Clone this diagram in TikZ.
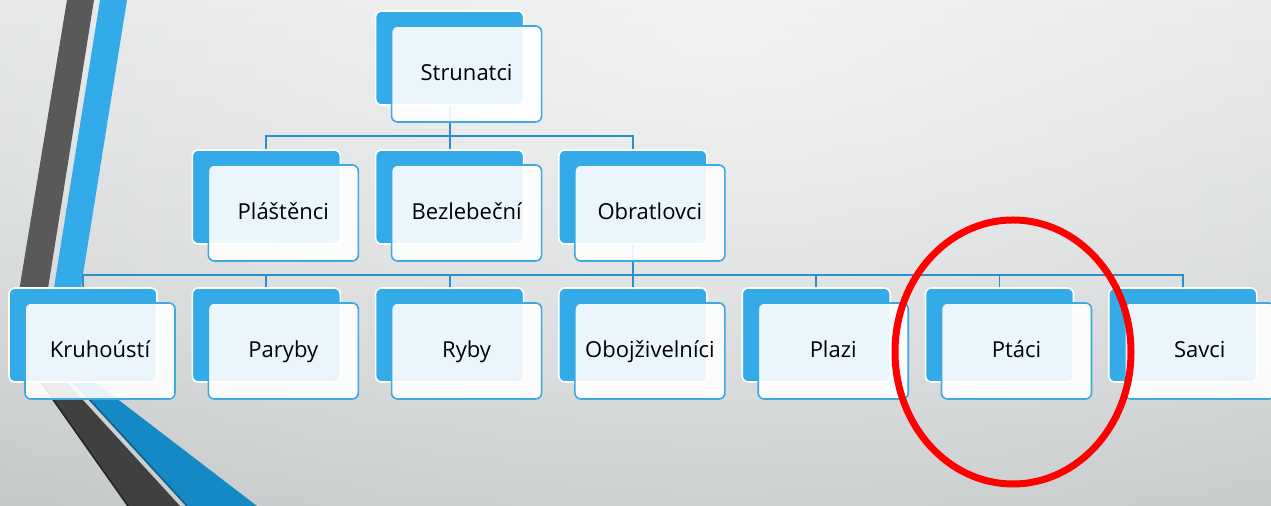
\documentclass[tikz,border=0pt]{standalone}
\usepackage{fontspec}
\setmainfont{Open Sans}
\usetikzlibrary{fadings}

\definecolor{sliceblue}{HTML}{33ABE9}
\definecolor{slicedeep}{HTML}{1588C6}
\definecolor{sliceedge}{HTML}{0E5F8C}
\definecolor{slicegray}{HTML}{595959}
\definecolor{slicedark}{HTML}{404040}
\definecolor{linkblue}{HTML}{2A8FCB}
\definecolor{frameblue}{HTML}{3DA9E2}
\definecolor{bgtop}{HTML}{DFE1E2}
\definecolor{bgbottom}{HTML}{C1C5C6}

\tikzfading[name=glow, inner color=transparent!0, outer color=transparent!100]

\tikzset{
  backbox/.style={draw=white, line width=0.8pt, fill=sliceblue, rounded corners=3pt,
    minimum width=74pt, minimum height=47pt, inner sep=0pt},
  frontbox/.style={draw=frameblue, line width=0.8pt, fill=white, fill opacity=0.9,
    text opacity=1, rounded corners=3pt, minimum width=75pt, minimum height=48pt,
    inner sep=0pt, text height=8pt, text depth=1.5pt, text=black,
    font=\fontsize{11pt}{13pt}\selectfont},
  link/.style={draw=linkblue, line width=0.9pt},
}

\begin{document}
\begin{tikzpicture}[x=0.5pt, y=-0.5pt]
      \useasboundingbox (0,0) rectangle (1271,506);
      \clip (0,0) rectangle (1271,506);

      % background
      \shade[top color=bgtop, bottom color=bgbottom] (0,0) rectangle (1271,506);
      \fill[white, opacity=0.6, path fading=glow] (720,40) ellipse (1200 and 700);

      % stripes on the left
      \fill[slicegray] (67,0) -- (94,0) -- (38,351) -- (11,340) -- cycle;
      \fill[slicedark] (11,340) -- (38,351) -- (180,506) -- (128,506) -- cycle;
      \draw[black!85, line width=0.8pt] (11,340) -- (128,506);
      \fill[sliceblue] (100,0) -- (127,0) -- (69,362) -- (44,350) -- cycle;
      \fill[slicedeep] (44,350) -- (69,362) -- (257,506) -- (187,506) -- cycle;
      \draw[sliceedge, line width=0.8pt] (44,350) -- (187,506);

      % back boxes
      \node[backbox] (strun-b) at (449.6, 58) {};
      \foreach \name [count=\i] in {plas, bezl, obra} {
        \node[backbox] (\name-b) at (83+183.3*\i, 197) {};
      }
      \foreach \name [count=\i from 0] in {kruh, pary, ryby, oboj, plaz, ptac, savc} {
        \node[backbox] (\name-b) at (83+183.3*\i, 335) {};
      }

      % connectors
      \foreach \kid in {plas, bezl, obra} {
        \draw[link] (strun-b.south) -- ++(0,30) -| (\kid-b.north);
      }
      \foreach \kid in {kruh, pary, ryby, oboj, plaz, ptac, savc} {
        \draw[link] (obra-b.south) -- ++(0,30) -| (\kid-b.north);
      }

      % front boxes
      \node[frontbox] (strun) at (466.6, 74) {Strunatci};
      \foreach \name/\txt [count=\i] in {plas/Pláštěnci, bezl/Bezlebeční, obra/Obratlovci} {
        \node[frontbox] (\name) at (100+183.3*\i, 213) {\txt};
      }
      \foreach \name/\txt [count=\i from 0] in {kruh/Kruhoústí, pary/Paryby, ryby/Ryby,
          oboj/Obojživelníci, plaz/Plazi, ptac/Ptáci, savc/Savci} {
        \node[frontbox] (\name) at (100+183.3*\i, 351) {\txt};
      }

      % mark
      \draw[red, line width=3.5pt] (1013,352) ellipse (118 and 132);
\end{tikzpicture}
\end{document}
